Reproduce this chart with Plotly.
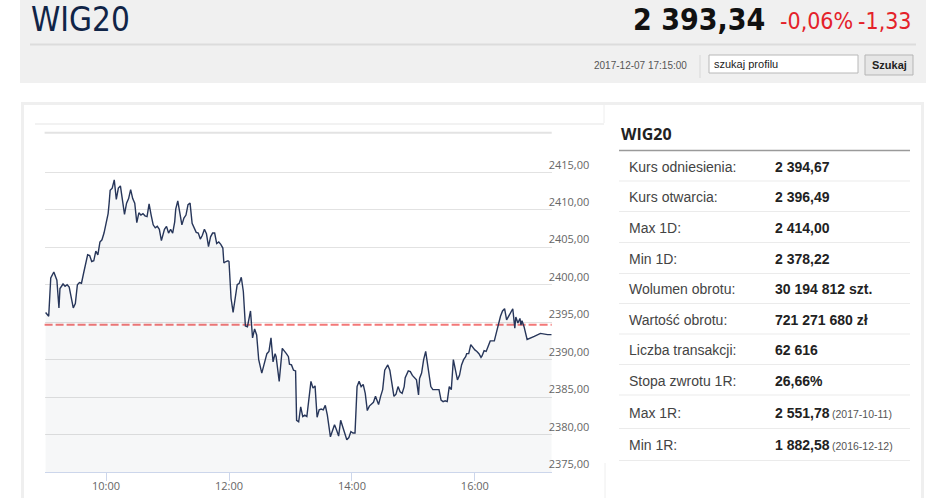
import plotly.graph_objects as go

W, H = 945, 498

DAY = "2017-12-07"

TIMES = [
    "09:01", "09:04", "09:06", "09:09", "09:12", "09:14", "09:15", "09:18", "09:20", "09:22",
    "09:24", "09:26", "09:28", "09:30", "09:32", "09:34", "09:36", "09:38", "09:40", "09:42",
    "09:44", "09:46", "09:48", "09:50", "09:52", "09:54", "09:56", "09:58", "10:00", "10:02",
    "10:03", "10:04", "10:06", "10:08", "10:10", "10:12", "10:14", "10:16", "10:18", "10:20",
    "10:22", "10:24", "10:26", "10:28", "10:30", "10:32", "10:34", "10:36", "10:38", "10:40",
    "10:42", "10:44", "10:46", "10:48", "10:50", "10:52", "10:54", "10:57", "10:59", "11:01",
    "11:03", "11:05", "11:07", "11:08", "11:10", "11:12", "11:14", "11:16", "11:18", "11:20",
    "11:22", "11:24", "11:26", "11:28", "11:30", "11:32", "11:34", "11:36", "11:38", "11:40",
    "11:42", "11:44", "11:46", "11:48", "11:50", "11:52", "11:54", "11:55", "11:57", "11:59",
    "12:00", "12:02", "12:04", "12:06", "12:08", "12:10", "12:12", "12:14", "12:16", "12:18",
    "12:21", "12:23", "12:25", "12:27", "12:29", "12:32", "12:35", "12:37", "12:39", "12:41",
    "12:43", "12:45", "12:46", "12:49", "12:52", "12:54", "12:56", "12:58", "12:59", "13:01",
    "13:03", "13:05", "13:06", "13:08", "13:10", "13:12", "13:14", "13:16", "13:18", "13:20",
    "13:22", "13:24", "13:26", "13:28", "13:30", "13:32", "13:34", "13:36", "13:39", "13:41",
    "13:43", "13:45", "13:47", "13:49", "13:51", "13:53", "13:55", "13:57", "13:59", "14:01",
    "14:03", "14:05", "14:07", "14:09", "14:11", "14:13", "14:15", "14:17", "14:19", "14:21",
    "14:23", "14:25", "14:26", "14:28", "14:30", "14:32", "14:35", "14:37", "14:39", "14:41",
    "14:43", "14:45", "14:47", "14:49", "14:51", "14:52", "14:55", "14:57", "14:59", "15:01",
    "15:03", "15:05", "15:06", "15:08", "15:10", "15:12", "15:14", "15:17", "15:19", "15:21",
    "15:23", "15:25", "15:27", "15:29", "15:31", "15:33", "15:35", "15:37", "15:39", "15:41",
    "15:43", "15:45", "15:47", "15:49", "15:51", "15:52", "15:54", "15:56", "15:58", "16:00",
    "16:02", "16:04", "16:06", "16:07", "16:09", "16:11", "16:13", "16:15", "16:17", "16:19",
    "16:21", "16:23", "16:25", "16:27", "16:29", "16:31", "16:33", "16:35", "16:37", "16:39",
    "16:40", "16:42", "16:44", "16:45", "16:46", "16:48", "16:51", "16:58", "17:04", "17:11",
    "17:15",
]

PRICES = [
    2396.3, 2395.8, 2400.9, 2401.7, 2400.6, 2396.9, 2399.5, 2400.1, 2399.8, 2400.0,
    2399.7, 2398.4, 2396.9, 2397.5, 2400.0, 2400.3, 2400.2, 2401.5, 2402.9, 2404.0,
    2403.9, 2403.1, 2403.2, 2404.5, 2404.0, 2405.7, 2406.0, 2406.9, 2408.2, 2409.5,
    2410.9, 2412.6, 2412.9, 2414.0, 2411.4, 2412.9, 2413.2, 2410.9, 2409.4, 2410.9,
    2411.5, 2412.7, 2411.5, 2410.9, 2408.3, 2409.6, 2409.3, 2409.5, 2409.2, 2409.1,
    2410.8, 2409.3, 2408.0, 2407.6, 2407.8, 2407.4, 2405.9, 2407.4, 2407.8, 2406.9,
    2407.4, 2406.9, 2408.4, 2410.1, 2411.2, 2409.6, 2408.0, 2408.9, 2409.3, 2410.7,
    2410.9, 2408.2, 2407.7, 2407.0, 2406.9, 2406.1, 2406.6, 2407.4, 2406.8, 2405.1,
    2406.4, 2406.9, 2406.9, 2405.5, 2405.7, 2405.4, 2404.9, 2402.9, 2403.1, 2403.2,
    2403.1, 2398.2, 2396.3, 2398.2, 2400.0, 2400.2, 2401.0, 2399.1, 2394.5, 2394.4,
    2396.5, 2392.9, 2394.1, 2393.3, 2390.0, 2388.2, 2390.0, 2390.8, 2391.1, 2392.9,
    2389.7, 2390.8, 2390.4, 2387.1, 2391.5, 2391.2, 2390.8, 2390.4, 2389.4, 2389.3,
    2388.6, 2388.5, 2381.9, 2381.7, 2383.7, 2382.4, 2382.6, 2382.4, 2384.6, 2387.1,
    2386.2, 2386.5, 2382.3, 2383.3, 2383.4, 2383.3, 2383.9, 2382.6, 2379.7, 2380.4,
    2381.3, 2380.6, 2379.8, 2381.9, 2381.1, 2380.1, 2379.3, 2379.6, 2380.4, 2380.2,
    2380.2, 2386.4, 2387.1, 2386.4, 2386.7, 2385.5, 2383.2, 2383.8, 2384.1, 2384.3,
    2385.1, 2384.2, 2384.0, 2385.1, 2386.0, 2388.6, 2389.3, 2388.6, 2387.1, 2385.1,
    2385.4, 2386.4, 2385.7, 2385.5, 2386.4, 2387.6, 2388.5, 2388.4, 2387.9, 2387.6,
    2387.3, 2385.3, 2387.5, 2388.2, 2390.0, 2391.1, 2389.1, 2386.4, 2386.0, 2386.0,
    2386.1, 2386.0, 2384.6, 2384.4, 2384.5, 2384.4, 2386.4, 2386.0, 2390.0, 2388.4,
    2387.3, 2387.9, 2389.3, 2390.0, 2390.4, 2390.8, 2390.8, 2392.0, 2391.6, 2391.3,
    2391.1, 2390.8, 2390.3, 2390.5, 2391.2, 2391.1, 2391.8, 2392.5, 2392.5, 2392.5,
    2393.6, 2394.9, 2395.8, 2396.5, 2396.8, 2395.3, 2395.8, 2396.4, 2396.8, 2394.2,
    2395.7, 2394.9, 2395.5, 2394.6, 2395.2, 2394.4, 2392.7, 2393.1, 2393.5, 2393.34,
    2393.34,
]

REF_PRICE = 2394.67
SESSION = ["09:00", "17:15"]
Y_TICKS = [2375, 2380, 2385, 2390, 2395, 2400, 2405, 2410, 2415]
Y_TOP = 2420.3
X_TICKS = ["10:00", "12:00", "14:00", "16:00"]

TITLE = "WIG20"
LAST = "2 393,34"
CHANGE_PCT = "-0,06%"
CHANGE = "-1,33"
STAMP = "2017-12-07 17:15:00"

ROW_LABELS = [
    "Kurs odniesienia:", "Kurs otwarcia:", "Max 1D:", "Min 1D:", "Wolumen obrotu:",
    "Wartość obrotu:", "Liczba transakcji:", "Stopa zwrotu 1R:", "Max 1R:", "Min 1R:",
]
ROW_VALUES = [
    "2 394,67", "2 396,49", "2 414,00", "2 378,22", "30 194 812 szt.",
    "721 271 680 zł", "62 616", "26,66%", "2 551,78", "1 882,58",
]
ROW_NOTES = ["", "", "", "", "", "", "", "", "(2017-10-11)", "(2016-12-12)"]

NARROW = "DejaVu Sans Condensed, Liberation Sans Narrow, sans-serif"
ARIAL = "Liberation Sans, Arial, sans-serif"
CHART_FONT = "Open Sans, Liberation Sans, sans-serif"


def px(x):
    return x / W


def py(y):
    return 1 - y / H


def label(x, y, s, size, color, family=ARIAL, xanchor="left", weight="normal"):
    return dict(
        xref="paper", yref="paper", x=px(x), y=py(y), text=s, showarrow=False,
        xanchor=xanchor, yanchor="middle", borderpad=0,
        font=dict(size=size, color=color, family=family, weight=weight),
    )


def rect(x0, y0, x1, y1, fill=None, line=None, width=1):
    return dict(
        type="rect", xref="paper", yref="paper",
        x0=px(x0), x1=px(x1), y0=py(y0), y1=py(y1),
        fillcolor=fill or "rgba(0,0,0,0)",
        line=dict(color=line or "rgba(0,0,0,0)", width=width if line else 0),
        layer="below",
    )


def hline(x0, x1, y, color, width=1):
    return dict(
        type="line", xref="paper", yref="paper",
        x0=px(x0), x1=px(x1), y0=py(y), y1=py(y),
        line=dict(color=color, width=width), layer="below",
    )


def vline(x, y0, y1, color, width=1):
    return dict(
        type="line", xref="paper", yref="paper",
        x0=px(x), x1=px(x), y0=py(y0), y1=py(y1),
        line=dict(color=color, width=width), layer="below",
    )


x_vals = [f"{DAY} {t}" for t in TIMES]

fig = go.Figure()
fig.add_trace(
    go.Scatter(
        x=x_vals,
        y=PRICES,
        mode="lines",
        line=dict(color="#27365a", width=1.4),
        fill="tozeroy",
        fillcolor="rgba(43,58,90,0.045)",
        hoverinfo="x+y",
        showlegend=False,
    )
)

shapes = [
    # header block
    rect(20, -5, 926, 83, fill="#f0f0f0"),
    hline(30, 916, 44.5, "#dcdcdc", 2),
    vline(700, 55, 78, "#d8d8d8"),
    rect(709, 55, 858, 73, fill="white", line="#b8b8b8"),
    rect(865, 55, 913, 75, fill="#e6e6e6", line="#b5b5b5"),
    # main panel
    rect(22.5, 103.5, 922.5, 520, line="#efefef", width=3),
    hline(35, 604, 124, "#f2f2f2", 2),
    vline(604, 105, 123, "#eeeeee"),
    vline(605, 463, 500, "#eeeeee"),
    # table rule under the title
    hline(619, 910, 150.5, "#9a9a9a", 1.5),
    # chart top rule
    dict(type="line", xref="x domain", yref="y domain", x0=0, x1=1, y0=1, y1=1,
         line=dict(color="#e3e3e3", width=2), layer="below"),
    # reference price line
    dict(type="line", xref="x domain", yref="y", x0=0, x1=1, y0=REF_PRICE, y1=REF_PRICE,
         line=dict(color="#f37878", width=2, dash="8px,3px"), layer="below"),
]

row_lines = [181, 211.5, 242.5, 273.5, 303.5, 334, 364.5, 395, 428.5, 460.5]
for yl in row_lines:
    shapes.append(hline(619, 910, yl, "#ebebeb", 1))

annotations = [
    label(30, 19.5, TITLE, 33, "#102447", NARROW),
    label(766, 19.5, LAST, 30, "#111111", NARROW, xanchor="right", weight="bold"),
    label(779, 21, CHANGE_PCT, 23, "#e4222a", NARROW),
    label(857, 21, CHANGE, 23, "#e4222a", NARROW),
    label(688, 65, STAMP, 10, "#555555", xanchor="right"),
    label(713, 63.5, "szukaj profilu", 11, "#222222"),
    label(889, 65, "Szukaj", 11, "#222222", xanchor="center", weight="bold"),
    label(620, 134, TITLE, 16, "#222222", CHART_FONT, weight="bold"),
]

prev = 150.5
for lab, val, note, yl in zip(ROW_LABELS, ROW_VALUES, ROW_NOTES, row_lines):
    yc = (prev + yl) / 2 + 0.8
    annotations.append(label(628, yc, lab, 14, "#444444"))
    annotations.append(label(774, yc, val, 14, "#222222", weight="bold"))
    if note:
        annotations.append(label(831, yc + 1, note, 10.5, "#555555"))
    prev = yl

fig.update_layout(
    width=W,
    height=H,
    margin=dict(l=0, r=0, t=0, b=0),
    paper_bgcolor="white",
    plot_bgcolor="rgba(0,0,0,0)",
    separators=", ",
    showlegend=False,
    shapes=shapes,
    annotations=annotations,
    xaxis=dict(
        type="date",
        domain=[px(44.6), px(551.7)],
        range=[f"{DAY} {SESSION[0]}", f"{DAY} {SESSION[1]}"],
        tickvals=[f"{DAY} {t}" for t in X_TICKS],
        ticktext=X_TICKS,
        showgrid=False,
        zeroline=False,
        showline=True,
        linecolor="#ccd6eb",
        linewidth=1,
        ticks="outside",
        ticklen=8,
        tickcolor="#ccd6eb",
        ticklabelstandoff=-4,
        tickfont=dict(family=CHART_FONT, size=11, color="#666666"),
        fixedrange=True,
    ),
    yaxis=dict(
        domain=[py(472), py(132.7)],
        range=[Y_TICKS[0], Y_TOP],
        side="right",
        tickvals=Y_TICKS,
        tickformat=".2f",
        ticklabelposition="outside top",
        ticklabelstandoff=-4,
        ticks="",
        showgrid=True,
        gridcolor="#e2e2e2",
        gridwidth=1,
        zeroline=False,
        showline=False,
        tickfont=dict(family=CHART_FONT, size=11, color="#666666"),
        fixedrange=True,
    ),
)

fig.write_html(
    "out.html",
    config={"displayModeBar": False},
    post_script="document.body.style.margin='0px';document.body.style.overflow='hidden';",
)
